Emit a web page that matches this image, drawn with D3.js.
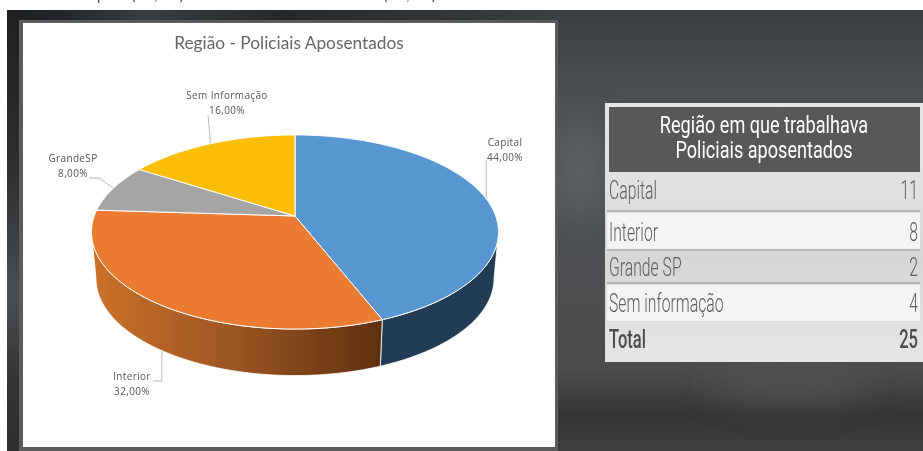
<!DOCTYPE html>
<html lang="pt-BR">
<head>
<meta charset="utf-8">
<title>Região - Policiais Aposentados</title>
<script src="https://cdn.jsdelivr.net/npm/d3@7/dist/d3.min.js"></script>
<style>
  html, body { margin: 0; padding: 0; background: #fff; }
  svg { display: block; }
</style>
</head>
<body>
<svg id="chart" width="923" height="451"></svg>
<script>
// Retired officers by the region where they worked
const categories = ["Capital", "Interior", "GrandeSP", "Sem Informação"];
const tableLabels = ["Capital", "Interior", "Grande SP", "Sem informação"];
const counts = [11, 8, 2, 4];
const sliceColors = ["#5897d2", "#ea7b30", "#a5a5a5", "#fcbe06"];
const wallColors = ["#223c55", "url(#wallOrange)", "#7a7a7a", "#b08600"];
const total = d3.sum(counts);

const svg = d3.select("#chart");
const defs = svg.append("defs");

function linear(id, x1, y1, x2, y2, stops) {
  const g = defs.append("linearGradient").attr("id", id)
    .attr("gradientUnits", "userSpaceOnUse")
    .attr("x1", x1).attr("y1", y1).attr("x2", x2).attr("y2", y2);
  stops.forEach(([o, c]) => g.append("stop").attr("offset", o).attr("stop-color", c));
}
linear("bgV", 0, 10, 0, 451, [[0, "#3b3f42"], [0.2, "#4b5053"], [0.55, "#4d5052"], [0.82, "#4b4b4d"], [0.92, "#373636"], [1, "#3e3e3e"]]);
linear("bgLeft", 7, 0, 560, 0, [[0, "#1d1f21"], [0.1, "#22262a"], [0.25, "#383e42"], [0.5, "#25282a"], [1, "#3b4043"]]);
linear("leftBand", 0, 10, 0, 451, [[0, "#1e2022"], [0.35, "#2c2e2f"], [0.65, "#4b4f51"], [0.85, "#333"], [1, "#2f2f2f"]]);
linear("panel", 0, 103, 0, 362, [[0, "#e4e5e5"], [0.35, "#e0e1e1"], [0.6, "#d5d6d6"], [0.85, "#dfe0e0"], [1, "#e5e6e6"]]);
linear("wallOrange", 92, 0, 381, 0, [[0, "#cc7128"], [0.5, "#9a5522"], [1, "#5f3010"]]);

defs.append("filter").attr("id", "soft")
  .attr("x", "-50%").attr("y", "-80%").attr("width", "200%").attr("height", "260%")
  .append("feGaussianBlur").attr("stdDeviation", 16);

// Dark slide backdrop with its soft highlights
svg.append("rect").attr("x", 7).attr("y", 10).attr("width", 916).attr("height", 441).attr("fill", "url(#bgV)");
svg.append("rect").attr("x", 7).attr("y", 10).attr("width", 560).attr("height", 13).attr("fill", "url(#bgLeft)");
svg.append("rect").attr("x", 7).attr("y", 10).attr("width", 12).attr("height", 441).attr("fill", "url(#leftBand)");

const glow = svg.append("g").attr("filter", "url(#soft)");
glow.append("ellipse").attr("cx", 580).attr("cy", 170).attr("rx", 30).attr("ry", 50).attr("fill", "#666a6c").attr("opacity", 0.6);
glow.append("ellipse").attr("cx", 790).attr("cy", 385).attr("rx", 80).attr("ry", 14).attr("fill", "#58595b").attr("opacity", 0.7);

// Headline of the slide, only its lower edge falls on the page
const headline = svg.append("g").attr("font-family", "Lato, sans-serif").attr("font-size", 16)
  .attr("fill", "#555").attr("text-anchor", "end");
headline.append("text").attr("x", 184).attr("y", 0).text("Capital (44,0%)");
headline.append("text").attr("x", 436).attr("y", 0).text("Interior (32,0%)");

// Chart card
svg.append("rect").attr("x", 19).attr("y", 20).attr("width", 539).attr("height", 431).attr("fill", "#5c5c5c");
svg.append("rect").attr("x", 23).attr("y", 23).attr("width", 532).attr("height", 424).attr("fill", "#fff");

svg.append("text").attr("x", 289).attr("y", 49).attr("text-anchor", "middle")
  .attr("font-family", "Lato, 'Open Sans', sans-serif").attr("font-size", 17.3).attr("fill", "#666")
  .text("Região - Policiais Aposentados");

// Perspective view of the unit disc: the far rim is foreshortened against the near rim
const cx = 295, cy = 216, radiusX = 200.7, radiusY = 94.4, tilt = 0.165, depth = 46.5, shrink = 0.978;
function topPoint(angle) {
  const u = Math.sin(angle), v = Math.cos(angle), w = 1 + tilt * v;
  return [cx + radiusX * u / w, cy - radiusY * v / w];
}
function basePoint(angle) {
  const [x, y] = topPoint(angle);
  return [cx + (x - cx) * shrink, y + depth];
}
function rim(a0, a1, fn) {
  const steps = Math.max(2, Math.ceil((a1 - a0) / 0.02));
  return d3.range(steps + 1).map(i => fn(a0 + (a1 - a0) * i / steps));
}
// Only the rim between the two horizontal extremes faces the viewer
const frontStart = Math.acos(-tilt), frontEnd = 2 * Math.PI - frontStart;

const arcs = d3.pie().sort(null)(counts);
const line = d3.line();

// Leader lines run from the slice's mid-angle to beside its label
const pct = d => d3.format(".2f")(d / total * 100).replace(".", ",") + "%";
const mid = d => (d.startAngle + d.endAngle) / 2;
const leaderColor = "#b9b9b9";
const leaderPaths = [
  d => { const p = topPoint(mid(d)); return [[p[0], p[1]], [p[0], 160]]; },
  d => { const p = basePoint(mid(d)); return [[p[0], p[1]], [p[0], 381], [153, 381]]; },
  d => { const p = topPoint(mid(d)); return [[p[0], p[1]], [99, 178], [89, 178]]; },
  d => { const p = topPoint(mid(d)); return [[p[0], p[1]], [208, 115]]; }
];
svg.append("g").selectAll("path").data(arcs).join("path")
  .attr("d", (d, i) => line(leaderPaths[i](d)))
  .attr("fill", "none").attr("stroke", leaderColor).attr("stroke-width", 1);

// Side walls first, then the top faces above them
const walls = arcs
  .map((d, i) => ({ a0: Math.max(d.startAngle, frontStart), a1: Math.min(d.endAngle, frontEnd), fill: wallColors[i] }))
  .filter(w => w.a1 > w.a0);
svg.append("g").selectAll("path").data(walls).join("path")
  .attr("d", w => line(rim(w.a0, w.a1, topPoint).concat(rim(w.a0, w.a1, basePoint).reverse())) + "Z")
  .attr("fill", w => w.fill)
  .attr("stroke", "#fff").attr("stroke-width", 0.8);

svg.append("g").selectAll("path").data(arcs).join("path")
  .attr("d", d => line([[cx, cy]].concat(rim(d.startAngle, d.endAngle, topPoint))) + "Z")
  .attr("fill", (d, i) => sliceColors[i])
  .attr("stroke", "#fff").attr("stroke-width", 1).attr("stroke-linejoin", "round");

// Data labels
const labelAnchors = [[505, 146], [132, 380], [73, 162], [227, 99]];
const labels = svg.append("g").attr("font-family", "'Open Sans', 'Noto Sans', sans-serif")
  .attr("font-size", 10).attr("letter-spacing", 0.35).attr("fill", "#555").attr("text-anchor", "middle");
arcs.forEach((d, i) => {
  const [x, y] = labelAnchors[i];
  labels.append("text").attr("x", x).attr("y", y).text(categories[i]);
  labels.append("text").attr("x", x).attr("y", y + 15).text(pct(counts[i]));
});

// Summary table
svg.append("rect").attr("x", 605).attr("y", 103).attr("width", 318).attr("height", 259).attr("fill", "url(#panel)");
svg.append("rect").attr("x", 609).attr("y", 107).attr("width", 311).attr("height", 65).attr("fill", "#595856");

const condensed = "Roboto, 'Liberation Sans', sans-serif";
function narrowText(x, y, str, size, color, anchor, weight, squeeze) {
  svg.append("text")
    .attr("transform", `translate(${x},${y}) scale(${squeeze},1)`)
    .attr("font-family", condensed).attr("font-size", size).attr("font-weight", weight)
    .attr("fill", color).attr("text-anchor", anchor).text(str);
}
narrowText(764, 133, "Região em que trabalhava", 23.5, "#fff", "middle", 400, 0.77);
narrowText(764, 158, "Policiais aposentados", 23.5, "#fff", "middle", 400, 0.77);

const rowBands = [[179, 33], [213, 36], [251, 33], [285, 36], [323, 39]];
const rowBaselines = [199, 241, 276, 312, 348];
const rows = tableLabels.map((label, i) => ({ label, value: counts[i] }));
rows.forEach((r, i) => {
  const [top, h] = rowBands[i];
  if (i % 2 === 1) {
    svg.append("rect").attr("x", 607).attr("y", top).attr("width", 313).attr("height", h).attr("fill", "#f2f5f4");
  }
  if (i < rows.length - 1) {
    svg.append("rect").attr("x", 607).attr("y", top + h - (i % 2 ? 0 : 2)).attr("width", 313).attr("height", 2).attr("fill", "#b5b5b7");
  }
  narrowText(609, rowBaselines[i], r.label, 25, "#5d5d5d", "start", 300, 0.63);
  narrowText(918, rowBaselines[i], r.value, 25, "#5d5d5d", "end", 300, 0.63);
});
narrowText(609, rowBaselines[4], "Total", 25, "#4c4c4c", "start", 500, 0.66);
narrowText(918, rowBaselines[4], total, 25, "#4c4c4c", "end", 500, 0.66);
</script>
</body>
</html>
